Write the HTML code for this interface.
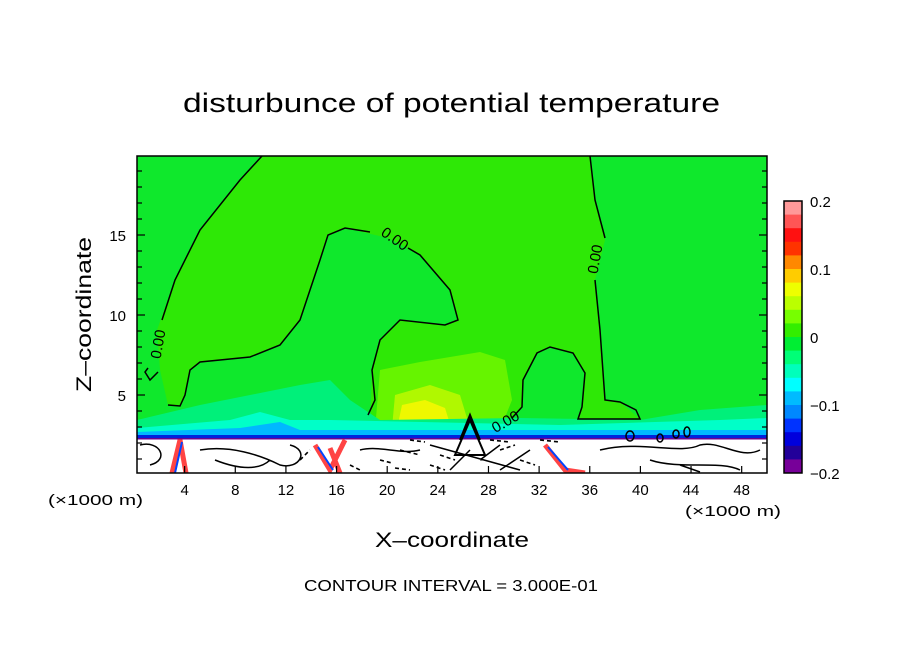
<!DOCTYPE html>
<html><head><meta charset="utf-8"><style>
html,body{margin:0;padding:0;background:#fff;}
svg{display:block;font-family:"Liberation Sans",sans-serif;}
</style></head><body>
<svg id="chart" width="904" height="654" viewBox="0 0 904 654">
<defs><clipPath id="pc"><rect x="137" y="156" width="630" height="317"/></clipPath></defs>
<text x="183" y="112" textLength="537" lengthAdjust="spacingAndGlyphs" font-size="27">disturbunce of potential temperature</text>
<g clip-path="url(#pc)">
<rect x="137" y="156" width="630" height="317" fill="#0fe82c"/>
<path d="M262,156 L590,156 L595,200 L605,240 L595,280 L600,330 L605,400 L620,402 L640,419 L578,419 L582,407 L585,373 L573,353 L550,347 L537,353 L523,380 L522,407 L500,428 L370,428 L372,370 L380,340 L400,320 L445,325 L458,320 L450,290 L420,255 L388,238 L345,228 L328,235 L320,260 L300,320 L280,345 L250,357 L200,362 L190,370 L185,395 L180,406 L168,405 L160,370 L157,330 L175,280 L200,230 L240,180 Z" fill="#2ee806"/>
<path d="M375,430 L380,370 L420,362 L480,352 L505,360 L512,400 L500,430 Z" fill="#66f400"/>
<path d="M392,428 L395,395 L430,385 L460,395 L470,428 Z" fill="#b0f800"/>
<path d="M398,424 L402,405 L425,400 L445,408 L450,424 Z" fill="#eef800"/>
<path d="M137,435 L137,420 L200,405 L300,385 L330,380 L350,400 L380,420 L520,418 L640,420 L700,410 L767,405 L767,435 Z" fill="#00f07a"/>
<path d="M137,437 L137,428 L230,420 L260,412 L290,420 L330,420 L560,425 L720,420 L767,418 L767,437 Z" fill="#00ffc8"/>
<path d="M137,437 L137,432 L240,428 L280,422 L300,430 L767,430 L767,437 Z" fill="#00b8ff"/>
<rect x="137" y="435" width="630" height="3" fill="#0022dd"/>
<rect x="137" y="438" width="630" height="1.5" fill="#6a0090"/>
<rect x="137" y="439.5" width="630" height="33.5" fill="#fff"/>
<path d="M172,473 L180,440 L186,473 M315,445 L330,470 L345,440 M545,445 L565,470 L585,473 M330,448 L340,473" stroke="#ff4444" stroke-width="5" fill="none"/>
<path d="M175,473 L182,442 M318,447 L333,470 M548,447 L568,470" stroke="#0044ff" stroke-width="2" fill="none"/>
<g fill="none" stroke="#000" stroke-width="1.5">
<path d="M168,405 L180,406 L185,395 L190,370 L200,362 L250,357 L280,345 L300,320 L320,260 L328,235 L345,228 L370,232"/>
<path d="M408,248 L420,255 L450,290 L458,320 L445,325 L400,320 L380,340 L372,370 L375,400 L368,415"/>
<path d="M262,156 L240,180 L200,230 L175,280 L162,320"/>
<path d="M158,372 L150,380 L145,372 L148,368"/>
<path d="M590,156 L595,200 L605,238"/>
<path d="M595,280 L600,330 L605,400 L620,402 L636,410 L640,419 L578,419 L582,407 L585,373 L573,353 L550,347 L537,353 L523,380 L522,407 L512,418"/>
<path d="M140,445 C160,440 170,460 150,465 M200,450 C230,445 260,455 280,465 C300,470 310,450 290,445 M360,450 C380,445 400,455 420,450 M600,450 C640,440 680,455 700,445 C720,440 740,460 760,450 M650,460 C680,470 720,460 740,470 M430,445 L520,470 M450,470 L470,450 M480,460 L500,445 M500,470 L530,450 M215,460 C240,470 260,470 270,460 M680,465 L700,472"/>
<path d="M455,455 L470,420 L485,455 Z M460,440 L470,415 L480,440 M465,430 L470,418 L476,430" stroke-width="2"/>
<ellipse cx="630" cy="436" rx="4" ry="5"/><ellipse cx="660" cy="438" rx="3" ry="4"/><ellipse cx="676" cy="434" rx="3" ry="4"/><ellipse cx="687" cy="432" rx="3" ry="5"/>
</g>
<g stroke="#000" stroke-width="1.6" fill="none">
<path d="M400,450 L420,455 M430,465 L445,470 M500,450 L515,445 M520,460 L535,465 M300,460 L310,450 M350,465 L360,470 M380,460 L392,463 M410,440 L425,442 M490,440 L510,442 M540,440 L560,442 M440,455 L455,460 M395,468 L410,470" stroke-dasharray="4 3"/>
</g>
</g>
<rect x="137" y="156" width="630" height="317" fill="none" stroke="#000" stroke-width="1.5"/>
<g font-size="15" fill="#000">
<text x="392" y="243" transform="rotate(35 392 243)" text-anchor="middle">0.00</text>
<text x="600" y="260" transform="rotate(-80 600 260)" text-anchor="middle">0.00</text>
<text x="163" y="345" transform="rotate(-80 163 345)" text-anchor="middle">0.00</text>
<text x="508" y="426" transform="rotate(-30 508 426)" text-anchor="middle">0.00</text>
</g>
<g id="axes"></g>
<g id="cbar"></g>
<text x="91" y="392" transform="rotate(-90 91 392)" textLength="155" lengthAdjust="spacingAndGlyphs" font-size="21">Z–coordinate</text>
<text x="375" y="547" textLength="154" lengthAdjust="spacingAndGlyphs" font-size="21">X–coordinate</text>
<text x="48" y="505" textLength="95" lengthAdjust="spacingAndGlyphs" font-size="15">(×1000 m)</text>
<text x="685" y="516" textLength="96" lengthAdjust="spacingAndGlyphs" font-size="15">(×1000 m)</text>
<text x="304" y="591" textLength="294" lengthAdjust="spacingAndGlyphs" font-size="16">CONTOUR INTERVAL = 3.000E-01</text>
</svg>
<script>
const xTicks=[4,8,12,16,20,24,28,32,36,40,44,48];
const yTicks=[5,10,15];
const cbarColors=["#ff9999","#ff5555","#ff1111","#ff3300","#ff8800","#ffcc00","#eeff00","#bbff00","#77ff00","#33ee00","#00ee33","#00ff77","#00ffbb","#00ffff","#00bbff","#0088ff","#0033ff","#0000dd","#220099","#770099"];
const cbarLabels=["0.2","0.1","0","\u22120.1","\u22120.2"];
const NS="http://www.w3.org/2000/svg";
function X(v){return 134+v*12.66;}
function Y(v){return 475-v*16;}
function mk(t,a,p){const e=document.createElementNS(NS,t);for(const k in a)e.setAttribute(k,a[k]);p.appendChild(e);return e;}
const ax=document.getElementById('axes');
xTicks.forEach(v=>{
 const l=mk('line',{x1:X(v),x2:X(v),y1:473,y2:466,stroke:'#000','stroke-width':1.2},ax);
 
 
 const t=mk('text',{x:X(v),y:495,'text-anchor':'middle','font-size':15},ax);t.textContent=v;
 
 
});
for(let v=1;v<=19;v++){
 const major=v%5===0;
 const l=mk('line',{x1:137,x2:137+(major?8:5),y1:Y(v),y2:Y(v),stroke:'#000','stroke-width':1.2},ax);
 
 
 const r=mk('line',{x1:767,x2:767-(major?8:5),y1:Y(v),y2:Y(v),stroke:'#000','stroke-width':1.2},ax);
 
 
}
yTicks.forEach(v=>{
 const t=mk('text',{x:126,y:Y(v)+6,'text-anchor':'end','font-size':15},ax);t.textContent=v;
 
 
});
const cb=document.getElementById('cbar');
const cbTop=201,bandH=272/cbarColors.length;
cbarColors.forEach((c,i)=>{
 const r=mk('rect',{x:784,y:cbTop+i*bandH,width:18,height:bandH+0.5,fill:c},cb);
 
 
});
const fr=mk('rect',{x:784,y:201,width:18,height:272,fill:'none',stroke:'#000','stroke-width':1.5},cb);


cbarLabels.forEach((s,i)=>{
 const t=mk('text',{x:810,y:cbTop+i*68+6,'font-size':15},cb);t.textContent=s;
 
 
});
</script>
</body></html>
